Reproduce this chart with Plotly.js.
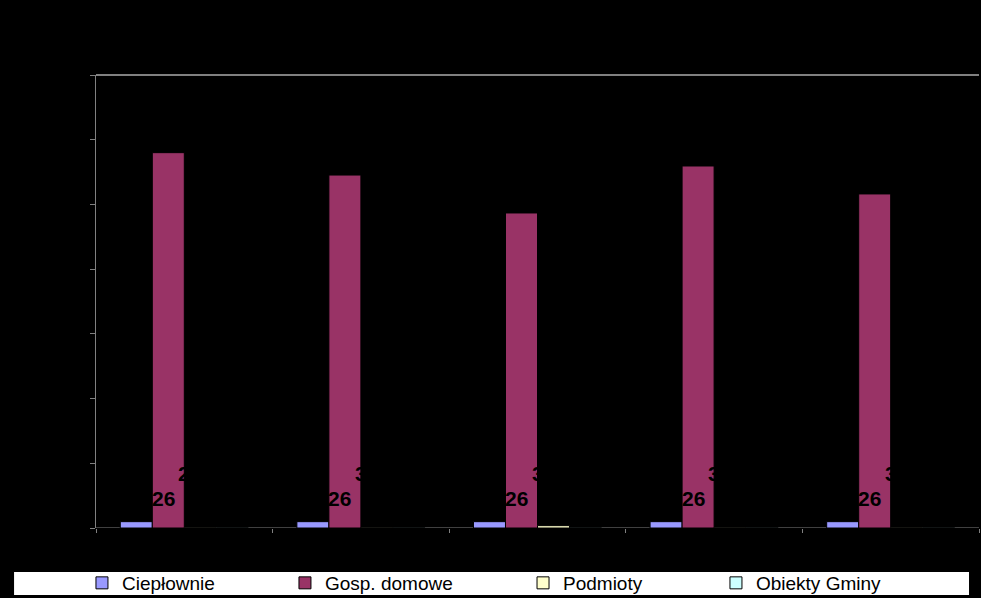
<!DOCTYPE html>
<html>
<head>
<meta charset="utf-8">
<script src="https://cdn.plot.ly/plotly-3.0.1.min.js"></script>
<style>
  html, body { margin: 0; padding: 0; background: #000; }
  #chart { width: 981px; height: 598px; }
</style>
</head>
<body>
<div id="chart"></div>
<script>
// ---- data ----
var categories = ["2010", "2011", "2012", "2013", "2014"];
var cieplownie = [490, 490, 490, 490, 490];
var gospDomowe = [29000, 27270, 24340, 27970, 25810];
var podmioty   = [10, 10, 180, 10, 10];
var obiektyGminy = [10, 10, 10, 10, 10];
var cieplLabels = ["26", "26", "26", "26", "26"];
var upperLabels = ["2", "3", "3", "3", "3"];
var yTicks = [0, 5000, 10000, 15000, 20000, 25000, 30000, 35000];

var seriesNames = ["Ciepłownie", "Gosp. domowe", "Podmioty", "Obiekty Gminy"];
var seriesColors = ["#9999FF", "#993366", "#FFFFCC", "#CCFFFF"];
var seriesValues = [cieplownie, gospDomowe, podmioty, obiektyGminy];
var legendIds = ["legend", "legend2", "legend3", "legend4"];
var legendX = [-0.0159, 0.2140, 0.4836, 0.7021];

var traces = seriesValues.map(function (vals, i) {
  return {
    type: "bar",
    name: seriesNames[i],
    x: categories,
    y: vals,
    legend: legendIds[i],
    marker: { color: seriesColors[i], line: { color: "#000000", width: 1 } },
    hoverinfo: "x+y+name"
  };
});

var labelFont = { family: "Liberation Sans, Arial, sans-serif", size: 21, color: "#000000", weight: "bold" };
var annotations = [];
categories.forEach(function (c, i) {
  annotations.push({
    x: i, y: cieplownie[i], xref: "x", yref: "y",
    text: cieplLabels[i], showarrow: false,
    xanchor: "center", yanchor: "middle",
    xshift: -21, yshift: 23,
    font: labelFont
  });
  annotations.push({
    x: i, y: 0, xref: "x", yref: "y",
    text: upperLabels[i], showarrow: false,
    xanchor: "left", yanchor: "middle",
    xshift: -8, yshift: 55,
    font: labelFont
  });
});

var legendFont = { family: "Liberation Sans, Arial, sans-serif", size: 19, color: "#000000" };
var layout = {
  width: 981, height: 598,
  paper_bgcolor: "#000000",
  plot_bgcolor: "#000000",
  margin: { l: 96, r: 2, t: 75, b: 70, pad: 0, autoexpand: false },
  barmode: "group",
  bargap: 0.275,
  bargroupgap: 0,
  showlegend: true,
  font: { family: "Liberation Sans, Arial, sans-serif", color: "#000000", size: 14 },
  xaxis: {
    type: "category",
    range: [-0.5, categories.length - 0.5],
    autorange: false,
    showline: false,
    showgrid: false,
    zeroline: false,
    ticks: "outside", ticklen: 4, tickcolor: "#808080", tickwidth: 1,
    tickson: "boundaries",
    tickfont: { color: "#000000", size: 14 },
    layer: "below traces"
  },
  yaxis: {
    range: [0, 35000],
    autorange: false,
    tickvals: yTicks,
    showline: true, linecolor: "#808080", linewidth: 1,
    showgrid: false, zeroline: false,
    ticks: "outside", ticklen: 5, tickcolor: "#808080", tickwidth: 1,
    tickfont: { color: "#000000", size: 14 },
    layer: "below traces"
  },
  shapes: [
    { type: "line", xref: "paper", yref: "y", x0: 0, x1: 1, y0: 0, y1: 0,
      line: { color: "#808080", width: 1 }, layer: "below" },
    { type: "line", xref: "paper", yref: "paper", x0: 0, x1: 1, y0: 1, y1: 1,
      line: { color: "#808080", width: 2 }, layer: "above" },
    { type: "rect", xref: "paper", yref: "paper",
      x0: -0.0928, x1: 0.9887, y0: -0.1479, y1: -0.0971,
      fillcolor: "#FFFFFF", line: { width: 0 }, layer: "above" }
  ],
  annotations: annotations
};
legendIds.forEach(function (id, i) {
  layout[id] = {
    orientation: "h",
    x: legendX[i], xanchor: "left",
    y: -0.1214, yanchor: "middle",
    bgcolor: "rgba(0,0,0,0)",
    borderwidth: 0,
    font: legendFont
  };
});

Plotly.newPlot("chart", traces, layout, { displayModeBar: false, staticPlot: true });
</script>
</body>
</html>
